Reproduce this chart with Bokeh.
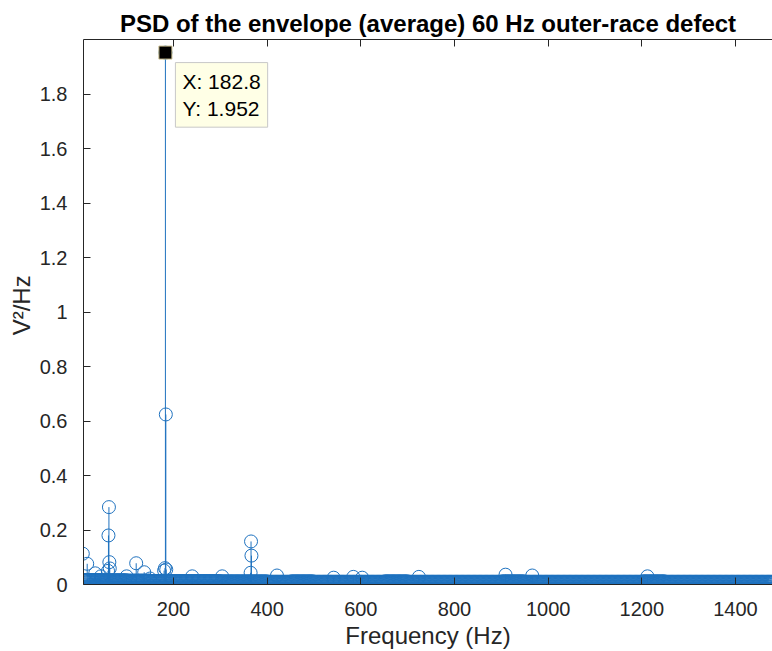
import numpy as np
from bokeh.plotting import figure
from bokeh.models import Range1d, FixedTicker, LinearAxis, Label, CustomJSTickFormatter, ColumnDataSource
from bokeh.embed import file_html
from bokeh.resources import INLINE

# ---- data ----
TITLE = "PSD of the envelope (average) 60 Hz outer-race defect"
X_LABEL = "Frequency (Hz)"
Y_LABEL = "\u00a0\u00a0V²/Hz"
X_TICKS = [200, 400, 600, 800, 1000, 1200, 1400]
Y_TICKS = [0, 0.2, 0.4, 0.6, 0.8, 1, 1.2, 1.4, 1.6, 1.8]
X_LIMITS = (7.9, 1479)
Y_LIMITS = (0, 2)

# visible peaks (Hz, V^2/Hz)
peak_freqs = [6.4, 15.8, 33.0, 45.0, 60.3, 61.2, 62.2, 63.1, 64.0, 100.0,
              120.4, 137.5, 150.0, 180.0, 181.9, 182.8, 183.7, 184.6,
              240.0, 304.0, 364.7, 365.6, 366.5, 421.0, 542.0, 584.0,
              603.0, 724.0, 909.0, 966.0, 1212.0]
peak_values = [0.113, 0.076, 0.041, 0.030, 0.050, 0.180, 0.284, 0.082, 0.059, 0.030,
               0.078, 0.045, 0.022, 0.051, 0.060, 1.952, 0.624, 0.055,
               0.030, 0.030, 0.043, 0.158, 0.106, 0.033, 0.025, 0.028,
               0.025, 0.028, 0.036, 0.033, 0.030]

# near-zero floor: one level per 50 Hz band
BASE_START, BASE_END, BASE_STEP = 6.4, 1485.0, 1.83
BAND_WIDTH_HZ = 50
base_levels = [0.016, 0.015, 0.014, 0.013, 0.012, 0.012, 0.011, 0.011, 0.010, 0.011,
               0.010, 0.010, 0.010, 0.011, 0.010, 0.010, 0.010, 0.010, 0.011, 0.010,
               0.010, 0.010, 0.010, 0.010, 0.011, 0.010, 0.010, 0.010, 0.010, 0.010]

# data tip
TIP_X, TIP_Y = 182.8, 1.952

# ---- build ----
base_f = np.arange(BASE_START, BASE_END, BASE_STEP)
base_v = np.array([base_levels[min(int(f // BAND_WIDTH_HZ), len(base_levels) - 1)] for f in base_f])
freqs = np.concatenate([base_f, np.array(peak_freqs)])
vals = np.concatenate([base_v, np.array(peak_values)])
src = ColumnDataSource(dict(f=freqs, v=vals, z=np.zeros_like(vals)))

BLUE = "#1f72bf"
AX = "#262626"
FONT = "Liberation Sans"

p = figure(width=772, height=651, output_backend="svg", toolbar_location=None,
           x_range=Range1d(*X_LIMITS), y_range=Range1d(*Y_LIMITS),
           min_border_left=83, min_border_right=0, min_border_top=39, min_border_bottom=67)
p.background_fill_color = "white"
p.border_fill_color = "white"
p.outline_line_color = None
p.grid.visible = False

p.title.text = TITLE
p.title.align = "center"
p.title.text_font = FONT
p.title.text_font_size = "24px"
p.title.text_font_style = "bold"
p.title.text_color = "black"
p.title.standoff = 5

p.segment(x0="f", y0="z", x1="f", y1="v", source=src, line_color=BLUE, line_width=1)
p.scatter(x="f", y="v", source=src, marker="circle", size=13, fill_color=None,
          line_color=BLUE, line_width=1)

fmt = CustomJSTickFormatter(code="return String(parseFloat(tick.toFixed(3)));")

def style_axis(ax):
    ax.axis_line_color = AX
    ax.axis_line_width = 1
    ax.major_tick_line_color = AX
    ax.major_tick_in = 7
    ax.major_tick_out = 0
    ax.minor_tick_line_color = None
    ax.major_label_text_color = AX
    ax.major_label_text_font = FONT
    ax.major_label_text_font_size = "20px"
    ax.axis_label_text_font = FONT
    ax.axis_label_text_font_size = "24px"
    ax.axis_label_text_font_style = "normal"
    ax.axis_label_text_color = AX

xa = p.xaxis[0]
xa.ticker = FixedTicker(ticks=X_TICKS)
xa.axis_label = X_LABEL
style_axis(xa)
xa.major_label_standoff = 17
xa.axis_label_standoff = 3

ya = p.yaxis[0]
ya.ticker = FixedTicker(ticks=Y_TICKS)
ya.formatter = fmt
ya.axis_label = Y_LABEL
style_axis(ya)
ya.major_label_standoff = 16
ya.axis_label_standoff = 2

top = LinearAxis(ticker=FixedTicker(ticks=X_TICKS),
                 formatter=CustomJSTickFormatter(code="return '';"))
style_axis(top)
top.major_label_standoff = 0
p.add_layout(top, "above")

# data tip
p.scatter([TIP_X], [TIP_Y], marker="square", size=13, fill_color="black",
          line_color="#cbbf8f", line_width=1)
tip = Label(x=TIP_X, y=TIP_Y, x_offset=10, y_offset=-10,
            text=f"X: {TIP_X:g}\nY: {TIP_Y:g}",
            text_align="left", text_baseline="top",
            text_font=FONT, text_font_size="21px", text_color="black",
            background_fill_color="#FFFFE6", border_line_color="#c8c8c8",
            padding=7)
p.add_layout(tip)

open("out.html", "w").write(file_html(p, INLINE))
